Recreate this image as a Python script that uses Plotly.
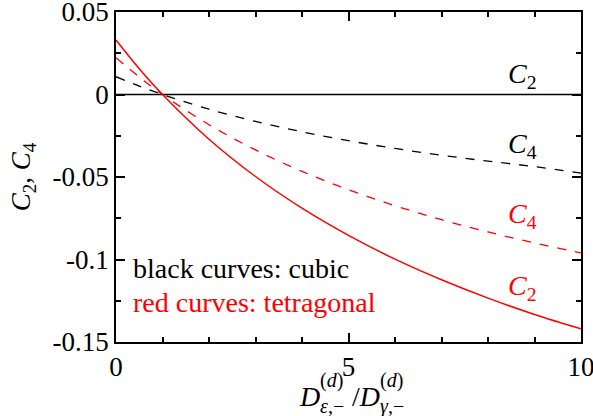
import plotly.graph_objects as go

ratio = [0, 0.5, 1, 2, 3, 4, 5, 6, 7, 8, 9, 10]
c2_cubic = [0, 0, 0, 0, 0, 0, 0, 0, 0, 0, 0, 0]
c4_cubic = [0.0108, 0.0051, 0.0, -0.0089, -0.0163, -0.0226, -0.0280, -0.0327, -0.0368, -0.0404, -0.0437, -0.0476]
c2_tetra = [0.0330, 0.0156, 0.0, -0.0271, -0.0497, -0.0689, -0.0854, -0.0998, -0.1123, -0.1234, -0.1333, -0.1420]
c4_tetra = [0.0223, 0.0106, 0.0, -0.0183, -0.0336, -0.0466, -0.0577, -0.0674, -0.0759, -0.0833, -0.0900, -0.0960]

FONT = "Liberation Serif, Times New Roman, Times, serif"
W, H = 593, 416
PL, PR, PT, PB = 116, 581, 12, 342  # target plot-area edges in window pixels
L, T = PL, PT
R = W - PR
B = H - PB

fig = go.Figure()
fig.add_trace(go.Scatter(x=ratio, y=c2_cubic, mode="lines", line=dict(color="black", width=1.5)))
fig.add_trace(go.Scatter(x=ratio, y=c4_cubic, mode="lines", line=dict(color="black", width=1.3, dash="dash", shape="spline")))
fig.add_trace(go.Scatter(x=ratio, y=c4_tetra, mode="lines", line=dict(color="red", width=1.3, dash="dash", shape="spline")))
fig.add_trace(go.Scatter(x=ratio, y=c2_tetra, mode="lines", line=dict(color="red", width=1.5, shape="spline")))

def px(xp, yp):
    return (xp - PL) / (PR - PL), (PB - yp) / (PB - PT)

ann = []
def add(text, xp, yp, size, color="black", xanchor="center", yanchor="middle"):
    x, y = px(xp, yp)
    ann.append(dict(text=text, x=x, y=y, xref="paper", yref="paper", showarrow=False,
                    font=dict(family=FONT, size=size, color=color), xanchor=xanchor, yanchor=yanchor))

add("<i>C</i><sub>2</sub>", 522, 75, 28)
add("<i>C</i><sub>4</sub>", 522, 145, 28)
add("<i>C</i><sub>4</sub>", 522, 215, 28, "red")
add("<i>C</i><sub>2</sub>", 522, 287, 28, "red")
add("black curves: cubic", 131, 268, 28, xanchor="left")
add("red curves: tetragonal", 131, 302, 28, "red", xanchor="left")

# x-axis title built from pieces
add("<i>D</i>", 309, 396, 28)
add("(<i>d</i>)", 331, 380, 20)
add("<i>ε</i>,−", 332, 406, 20)
add("/<i>D</i>", 366, 396, 28)
add("(<i>d</i>)", 391, 380, 20)
add("<i>γ</i>,−", 392, 406, 20)

axis_common = dict(showline=True, linecolor="black", linewidth=1.5, mirror="allticks",
                   ticks="inside", ticklen=9, tickwidth=1.5, tickcolor="black",
                   showgrid=False, zeroline=False, automargin=False,
                   ticklabeloverflow="allow",
                   tickfont=dict(family=FONT, size=27, color="black"))

fig.update_layout(
    width=W, height=H,
    margin=dict(l=L, r=R, t=T, b=B),
    paper_bgcolor="white", plot_bgcolor="white",
    font=dict(family=FONT, color="black"),
    showlegend=False,
    annotations=ann,
    xaxis=dict(range=[0, 10], tickvals=[0, 5, 10], ticktext=["0", "5", "10"],
               ticklabelstandoff=0,
               minor=dict(tickvals=[1, 2, 3, 4, 6, 7, 8, 9], ticks="inside", ticklen=5, tickwidth=1.5, tickcolor="black"),
               **axis_common),
    yaxis=dict(range=[-0.15, 0.05], tickvals=[-0.15, -0.1, -0.05, 0, 0.05],
               ticktext=["-0.15", "-0.1", "-0.05", "0", "0.05"],
               minor=dict(tickvals=[-0.125, -0.075, -0.025, 0.025], ticks="inside", ticklen=5, tickwidth=1.5, tickcolor="black"),
               title=dict(text="<i>C</i><sub>2</sub>, <i>C</i><sub>4</sub>", font=dict(family=FONT, size=27, color="black"), standoff=14),
               **axis_common),
)

fig.write_html("out.html", config={"displayModeBar": False},
               post_script="document.body.style.margin='0';document.body.style.overflow='hidden';")
